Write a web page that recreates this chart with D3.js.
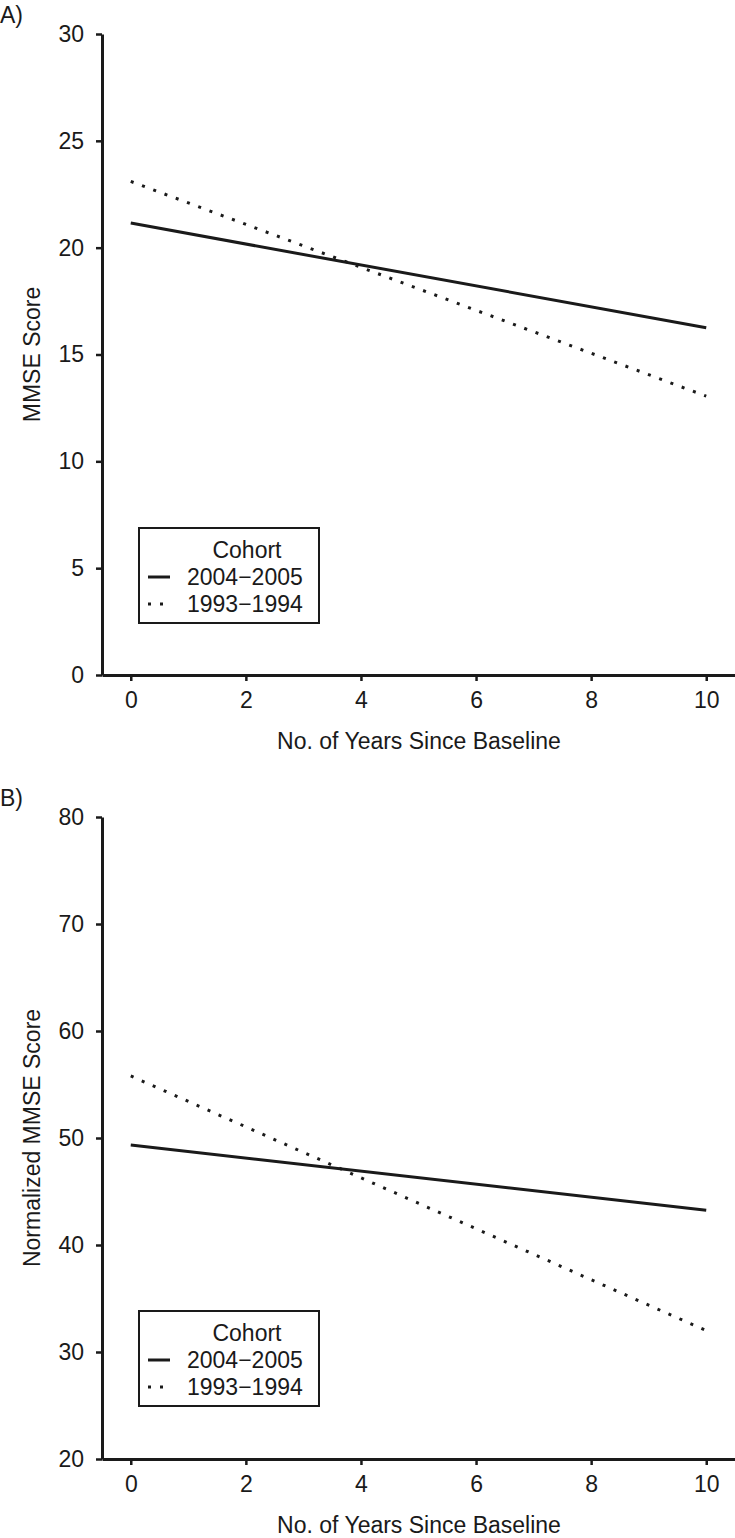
<!DOCTYPE html>
<html>
<head>
<meta charset="utf-8">
<script src="https://cdn.jsdelivr.net/npm/d3@7"></script>
<style>
  body { margin: 0; background: #fff; }
  text { font-family: "Liberation Sans", Arial, sans-serif; fill: #1a1a1a; }
</style>
</head>
<body>
<svg id="canvas"></svg>
<script>
////////////////////////////////////////////////////////////////////////////////
// Chart data.
////////////////////////////////////////////////////////////////////////////////
var years = [0, 10];
var cohorts = ['2004\u22122005', '1993\u22121994'];

// Panel A: MMSE score, fitted line ends.
var mmse2004 = [21.15, 16.25];
var mmse1993 = [23.1, 13.05];

// Panel B: normalized MMSE score, fitted line ends.
var norm2004 = [49.35, 43.25];
var norm1993 = [55.8, 32.0];

// Tick values.
var xTicks = [0, 2, 4, 6, 8, 10];
var yTicksA = [0, 5, 10, 15, 20, 25, 30];
var yTicksB = [20, 30, 40, 50, 60, 70, 80];

// Canvas properties.
var canvas = { width: 735, height: 1538 };
var ink = '#1a1a1a';
var fontSize = 23;

// Panel layout.
var panels = [
  {
    tag: 'A)', top: 34, bottom: 675, domain: [0, 30], ticks: yTicksA,
    yTitle: 'MMSE Score', series: [mmse2004, mmse1993]
  },
  {
    tag: 'B)', top: 817, bottom: 1459, domain: [20, 80], ticks: yTicksB,
    yTitle: 'Normalized MMSE Score', series: [norm2004, norm1993]
  }
];

var svg = d3.select('#canvas')
            .attr('width', canvas.width)
            .attr('height', canvas.height);

// Horizontal scale shared by both panels.
var xScale = d3.scaleLinear().domain([-0.5, 10.5]).range([102, 735]);

////////////////////////////////////////////////////////////////////////////////
// Draw one panel.
////////////////////////////////////////////////////////////////////////////////
function drawPanel(p) {

  var yScale = d3.scaleLinear().domain(p.domain).range([p.bottom, p.top]);

  // Panel tag.
  svg.append('text')
     .attr('x', 0)
     .attr('y', p.top - 19)
     .attr('dy', '0.35em')
     .style('font-size', fontSize + 'px')
     .text(p.tag);

  // Horizontal axis.
  var xAxis = d3.axisBottom(xScale)
                .tickValues(xTicks)
                .tickSize(6)
                .tickSizeOuter(0)
                .tickPadding(11);
  var gx = svg.append('g')
              .attr('transform', 'translate(0,' + p.bottom + ')')
              .call(xAxis);

  // Vertical axis.
  var yAxis = d3.axisLeft(yScale)
                .tickValues(p.ticks)
                .tickSize(6)
                .tickSizeOuter(0)
                .tickPadding(12);
  var gy = svg.append('g')
              .attr('transform', 'translate(' + xScale(-0.5) + ',0)')
              .call(yAxis);

  [gx, gy].forEach(function(g) {
    g.select('.domain').attr('stroke', ink).attr('stroke-width', 3);
    g.selectAll('.tick line').attr('stroke', ink).attr('stroke-width', 2.5);
    g.selectAll('.tick text')
     .attr('fill', ink)
     .style('font-family', '"Liberation Sans", Arial, sans-serif')
     .style('font-size', fontSize + 'px');
  });

  // Axis titles.
  svg.append('text')
     .attr('text-anchor', 'middle')
     .attr('x', 419)
     .attr('y', p.bottom + 66)
     .attr('dy', '0.35em')
     .style('font-size', fontSize + 'px')
     .text('No. of Years Since Baseline');

  svg.append('text')
     .attr('text-anchor', 'middle')
     .attr('transform', 'translate(32,' + (p.top + p.bottom) / 2 + ')rotate(-90)')
     .attr('dy', '0.35em')
     .style('font-size', fontSize + 'px')
     .text(p.yTitle);

  // Fitted lines.
  var line = d3.line()
               .x(function(d, i) { return xScale(years[i]); })
               .y(function(d) { return yScale(d); });

  p.series.forEach(function(s, i) {
    svg.append('path')
       .datum(s)
       .attr('d', line)
       .attr('fill', 'none')
       .attr('stroke', ink)
       .attr('stroke-width', 3)
       .attr('stroke-dasharray', i === 0 ? null : '3,9');
  });

  // Legend.
  var lx = 139, lw = 180, ly = p.top + 494, lh = 95;
  svg.append('rect')
     .attr('x', lx).attr('y', ly)
     .attr('width', lw).attr('height', lh)
     .attr('fill', '#fff')
     .attr('stroke', ink)
     .attr('stroke-width', 2);

  svg.append('text')
     .attr('text-anchor', 'middle')
     .attr('x', 247)
     .attr('y', ly + 22)
     .attr('dy', '0.35em')
     .style('font-size', fontSize + 'px')
     .text('Cohort');

  cohorts.forEach(function(c, i) {
    var rowY = ly + 49 + i * 27;
    svg.append('line')
       .attr('x1', 148).attr('x2', 170)
       .attr('y1', rowY).attr('y2', rowY)
       .attr('stroke', ink)
       .attr('stroke-width', 3)
       .attr('stroke-dasharray', i === 0 ? null : '3,9');
    svg.append('text')
       .attr('x', 187)
       .attr('y', rowY)
       .attr('dy', '0.35em')
       .style('font-size', fontSize + 'px')
       .text(c);
  });
}

panels.forEach(drawPanel);
</script>
</body>
</html>
